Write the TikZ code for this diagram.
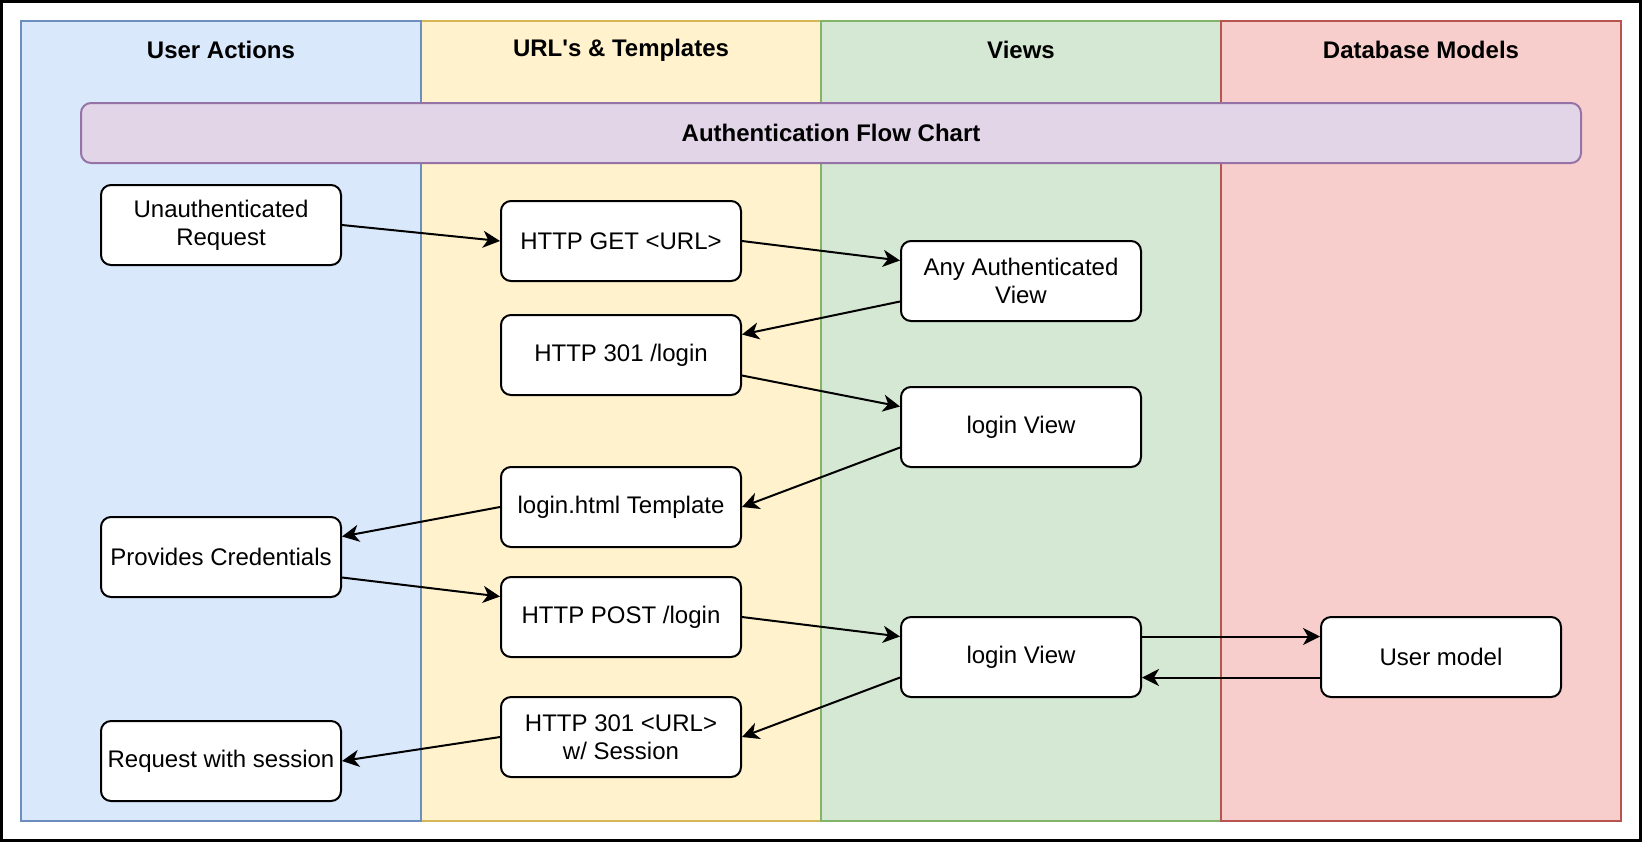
\documentclass[tikz,border=0pt]{standalone}
\usepackage{fontspec}
\setmainfont{Liberation Sans}
\usepackage{tikz}
\usetikzlibrary{arrows.meta,positioning,calc}
\definecolor{userfill}{HTML}{DAE8FC}
\definecolor{userline}{HTML}{6C8EBF}
\definecolor{urlfill}{HTML}{FFF2CC}
\definecolor{urlline}{HTML}{D6B656}
\definecolor{viewfill}{HTML}{D5E8D4}
\definecolor{viewline}{HTML}{82B366}
\definecolor{dbfill}{HTML}{F8CECC}
\definecolor{dbline}{HTML}{B85450}
\definecolor{chartfill}{HTML}{E1D5E7}
\definecolor{chartline}{HTML}{9673A6}
\tikzset{
  lane/.style={rectangle, draw=#1line, fill=#1fill, line width=1pt, inner sep=0pt,
               minimum width=200pt, minimum height=400pt},
  head/.style={font=\fontsize{12}{14}\selectfont\bfseries},
  chart/.style={rectangle, rounded corners=5pt, draw=chartline, fill=chartfill, line width=1pt,
                minimum width=750pt, minimum height=30pt, font=\fontsize{12}{14}\selectfont\bfseries},
  box/.style={rectangle, rounded corners=5pt, draw=black, fill=white, line width=1pt,
              align=center, inner sep=0pt, minimum width=120pt, minimum height=40pt,
              font=\fontsize{12}{14}\selectfont},
  arr/.style={-{Stealth[length=8.5pt, width=8.5pt, inset=2.5pt]}, line width=1pt},
}

\begin{document}
\begin{tikzpicture}[x=0.5pt, y=-0.5pt]
  \useasboundingbox (0,0) rectangle (1642,842);
  \draw[line width=1.5pt] (1.5,1.5) rectangle (1640.5,840.5);
  % swimlanes
  \node[lane=url]  (laneurl)  at (621,421) {};
  \node[lane=user] (laneuser) at (221,421) {};
  \node[lane=view] (laneview) at (1021,421) {};
  \node[lane=db]   (lanedb)   at (1421,421) {};
  \node[head] (huser) at (221,50)  {User Actions};
  \node[head] (hurl)  at (621,50)  {URL\textquotesingle s \& Templates};
  \node[head] (hview) at (1021,50) {Views};
  \node[head] (hdb)   at (1421,50) {Database Models};
  \node[chart] (title) at (831,133) {Authentication Flow Chart};
  % steps
  \node[box] (unauth)  at (221,225)  {Unauthenticated\\Request};
  \node[box] (get)     at (621,241)  {HTTP GET <URL>};
  \node[box] (anyview) at (1021,281) {Any Authenticated\\View};
  \node[box] (redir)   at (621,355)  {HTTP 301 /login};
  \node[box] (logina)  at (1021,427) {login View};
  \node[box] (tmpl)    at (621,507)  {login.html Template};
  \node[box] (creds)   at (221,557)  {Provides Credentials};
  \node[box] (post)    at (621,617)  {HTTP POST /login};
  \node[box] (loginb)  at (1021,657) {login View};
  \node[box] (usermod) at (1441,657) {User model};
  \node[box] (back)    at (621,737)  {HTTP 301 <URL>\\w/ Session};
  \node[box] (session) at (221,761)  {Request with session};
  % connectors
  \draw[arr] (unauth.east) -- (get.west);
  \draw[arr] (get.east) -- ($(anyview.north west)!0.25!(anyview.south west)$);
  \draw[arr] ($(anyview.north west)!0.75!(anyview.south west)$) -- ($(redir.north east)!0.25!(redir.south east)$);
  \draw[arr] ($(redir.north east)!0.75!(redir.south east)$) -- ($(logina.north west)!0.25!(logina.south west)$);
  \draw[arr] ($(logina.north west)!0.75!(logina.south west)$) -- (tmpl.east);
  \draw[arr] (tmpl.west) -- ($(creds.north east)!0.25!(creds.south east)$);
  \draw[arr] ($(creds.north east)!0.75!(creds.south east)$) -- ($(post.north west)!0.25!(post.south west)$);
  \draw[arr] (post.east) -- ($(loginb.north west)!0.25!(loginb.south west)$);
  \draw[arr] ($(loginb.north east)!0.25!(loginb.south east)$) -- ($(usermod.north west)!0.25!(usermod.south west)$);
  \draw[arr] ($(usermod.north west)!0.75!(usermod.south west)$) -- ($(loginb.north east)!0.75!(loginb.south east)$);
  \draw[arr] ($(loginb.north west)!0.75!(loginb.south west)$) -- (back.east);
  \draw[arr] (back.west) -- (session.east);
\end{tikzpicture}
\end{document}
